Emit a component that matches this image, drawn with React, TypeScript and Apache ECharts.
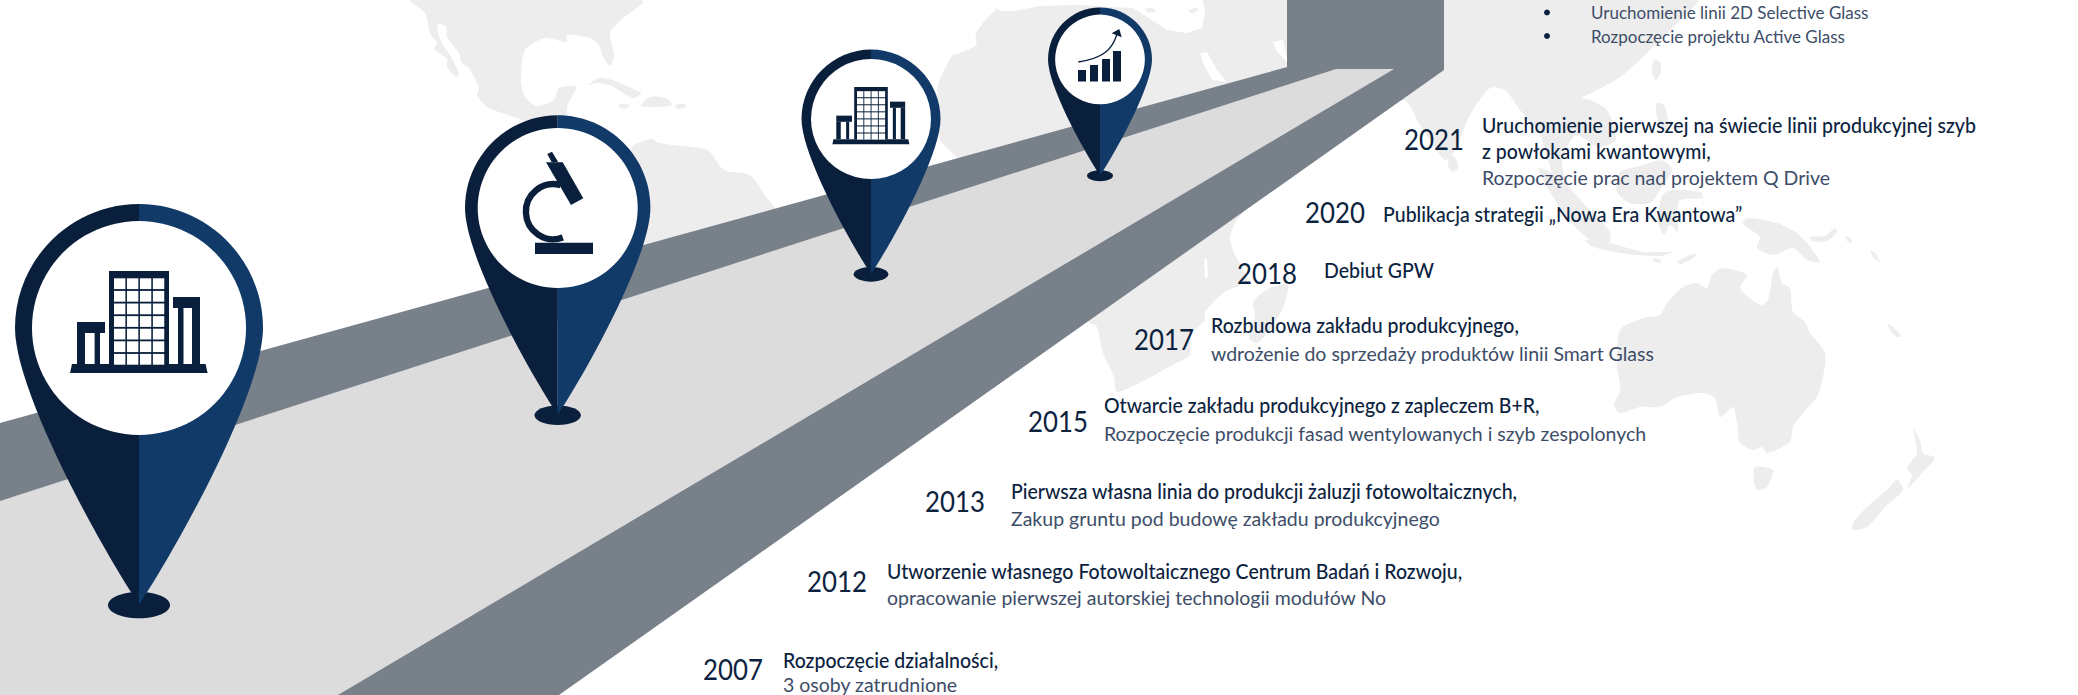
import React, { useEffect, useRef } from "react";
import * as echarts from "echarts";

const years = ["2021", "2020", "2018", "2017", "2015", "2013", "2012", "2007"];
const headlines = [
  ["Uruchomienie pierwszej na świecie linii produkcyjnej szyb", "z powłokami kwantowymi,"],
  ["Publikacja strategii „Nowa Era Kwantowa”"],
  ["Debiut GPW"],
  ["Rozbudowa zakładu produkcyjnego,"],
  ["Otwarcie zakładu produkcyjnego z zapleczem B+R,"],
  ["Pierwsza własna linia do produkcji żaluzji fotowoltaicznych,"],
  ["Utworzenie własnego Fotowoltaicznego Centrum Badań i Rozwoju,"],
  ["Rozpoczęcie działalności,"],
];
const details = [
  "Rozpoczęcie prac nad projektem Q Drive",
  "",
  "",
  "wdrożenie do sprzedaży produktów linii Smart Glass",
  "Rozpoczęcie produkcji fasad wentylowanych i szyb zespolonych",
  "Zakup gruntu pod budowę zakładu produkcyjnego",
  "opracowanie pierwszej autorskiej technologii modułów No",
  "3 osoby zatrudnione",
];
const bullets = ["Uruchomienie linii 2D Selective Glass", "Rozpoczęcie projektu Active Glass"];

// Layout: year x/y, text x, headline y(s), detail y
const rowLayout = [
  { yx: 1404, yy: 139, tx: 1482, hy: [125, 151], dy: 177 },
  { yx: 1305, yy: 212, tx: 1383, hy: [214], dy: 0 },
  { yx: 1237, yy: 273, tx: 1324, hy: [270], dy: 0 },
  { yx: 1134, yy: 339, tx: 1211, hy: [325], dy: 353 },
  { yx: 1028, yy: 421, tx: 1104, hy: [405], dy: 433 },
  { yx: 925, yy: 501, tx: 1011, hy: [491], dy: 518 },
  { yx: 807, yy: 581, tx: 887, hy: [571], dy: 597 },
  { yx: 703, yy: 669, tx: 783, hy: [660], dy: 684.5 },
];

const C = { dark: "#091f3c", blue: "#123a68", road: "#78818a", lane: "#dcdcdc", land: "#ededed", white: "#ffffff", head: "#0c2340", sub: "#3d4d68" };
const FONT = "Lato, 'Open Sans', sans-serif";

const landMasses: number[][][] = [
  // North America (with Central America running under the second pin)
  [[411,0],[425,13],[430,33],[437,43],[434,49],[447,59],[447,67],[456,77],[459,74],[451,57],[442,43],[438,33],[438,24],[446,27],[447,37],[460,55],[461,62],[469,68],[479,88],[477,95],[487,107],[514,117],[534,123],[567,123],[567,107],[576,87],[559,88],[554,100],[536,106],[525,97],[521,80],[525,50],[545,38],[567,42],[567,35],[590,38],[599,45],[603,57],[610,66],[614,55],[610,33],[621,20],[643,3],[641,0]],
  // Caribbean
  [[588,85],[599,78],[612,80],[641,93],[634,98],[623,93],[612,86],[599,83]],
  [[641,106],[650,97],[666,98],[672,105],[657,107]],
  [[620,104],[630,105],[625,109],[619,107]],
  [[675,105],[684,104],[686,107],[677,109]],
  // South America
  [[632,147],[652,139],[659,143],[692,147],[708,150],[724,170],[750,175],[766,197],[778,215],[640,260],[620,200]],
  // Europe / Africa / Asia
  [[994,0],[998,6],[1016,10],[998,8],[976,33],[976,45],[960,53],[952,56],[938,85],[936,110],[940,140],[956,157],[1000,250],[1090,323],[1097,327],[1103,353],[1114,377],[1117,392],[1143,381],[1167,368],[1190,355],[1190,343],[1192,333],[1205,320],[1205,312],[1223,293],[1247,280],[1234,253],[1230,237],[1237,220],[1300,150],[1403,100],[1420,125],[1445,160],[1455,150],[1470,115],[1490,88],[1505,90],[1520,110],[1540,135],[1548,160],[1558,188],[1565,185],[1562,160],[1576,135],[1598,147],[1616,140],[1607,110],[1590,100],[1582,98],[1597,90],[1620,77],[1643,57],[1657,43],[1680,20],[1697,0]],
  [[1257,297],[1270,288],[1288,285],[1282,310],[1267,333],[1257,343],[1249,338],[1255,317],[1253,303]],
  // Sri Lanka, Taiwan, Philippines
  [[1450,155],[1456,158],[1458,168],[1452,172],[1448,165]],
  [[1654,60],[1660,62],[1661,72],[1656,80],[1652,72]],
  [[1657,103],[1664,105],[1668,120],[1666,133],[1660,125],[1656,112]],
  // Sumatra, Borneo, Java, Sulawesi
  [[1538,168],[1560,178],[1585,205],[1610,232],[1608,245],[1590,240],[1565,215]],
  [[1620,172],[1640,166],[1662,160],[1672,170],[1660,190],[1650,203],[1630,203],[1617,192]],
  [[1585,240],[1610,243],[1643,252],[1673,252],[1660,256],[1627,254],[1593,247]],
  [[1658,222],[1662,196],[1672,190],[1700,192],[1703,198],[1680,200],[1677,212],[1678,232],[1670,225],[1664,235]],
  [[1677,262],[1695,253],[1696,256],[1682,264]],
  [[1653,258],[1661,260],[1660,263],[1654,261]],
  // New Guinea and New Britain
  [[1743,224],[1747,218],[1777,223],[1797,233],[1807,243],[1820,262],[1807,260],[1793,248],[1773,255],[1757,248],[1760,237]],
  [[1810,237],[1825,236],[1835,228],[1837,232],[1827,241],[1813,241]],
  [[1845,236],[1850,238],[1852,243],[1848,242]],
  [[1870,250],[1876,254],[1880,262],[1874,258]],
  [[1888,324],[1893,327],[1901,336],[1897,337],[1891,331]],
  // Australia and Tasmania
  [[1777,267],[1782,283],[1790,288],[1793,312],[1805,322],[1810,333],[1825,353],[1823,377],[1817,397],[1803,413],[1793,427],[1790,442],[1767,453],[1762,447],[1753,450],[1740,443],[1737,423],[1733,407],[1720,417],[1715,398],[1703,393],[1677,397],[1660,407],[1640,407],[1620,413],[1614,405],[1620,390],[1617,363],[1620,330],[1643,318],[1660,315],[1667,303],[1683,287],[1697,283],[1707,288],[1712,275],[1723,268],[1747,275],[1740,288],[1760,305],[1768,300],[1773,273]],
  [[1755,467],[1773,470],[1767,487],[1758,490],[1754,483]],
  // New Zealand
  [[1913,428],[1920,440],[1923,453],[1935,458],[1922,473],[1908,488],[1912,475],[1907,468],[1917,453]],
  [[1897,480],[1903,490],[1885,507],[1867,527],[1853,530],[1853,523],[1867,507],[1887,490]],
];
const seas: number[][][] = [
  // Mediterranean
  [[990,0],[1000,11],[1015,11],[1040,6],[1080,5],[1110,7],[1133,8],[1147,17],[1167,30],[1187,33],[1202,28],[1205,13],[1203,0]],
  // Red Sea, Persian Gulf, inland lake
  [[1200,53],[1207,52],[1217,70],[1227,82],[1212,80],[1203,63]],
  [[1273,42],[1283,40],[1288,63],[1282,57],[1276,50]],
  [[1204,259],[1207,259],[1208,277],[1205,278]],
  // Gulf of Tonkin
  [[1594,93],[1600,92],[1604,100],[1598,104]],
];
const medIslands: number[][][] = [
  [[1144,9],[1152,8],[1157,11],[1149,13]],
  [[1188,11],[1197,7],[1198,10],[1192,14]],
];

const grayRoad = [[0,423],[1287,67],[1287,0],[1444,0],[1444,70],[559,695],[0,695]];
const lightLane = [[0,501],[1336,69],[1394,69],[338,695],[0,695]];

const pins = [
  { cx: 139, cy: 328, R: 124, icon: "building" },
  { cx: 557.7, cy: 208, R: 92.7, icon: "microscope" },
  { cx: 871, cy: 119, R: 69.5, icon: "building" },
  { cx: 1100, cy: 59.5, R: 52, icon: "chart" },
];

echarts.graphic.registerShape("pinHalfL", echarts.graphic.extendPath("M0,-100 C-55,-100 -100,-55 -100,0 C-100,50 -35,170 0,223 Z", {}));
echarts.graphic.registerShape("pinHalfR", echarts.graphic.extendPath("M0,-100 C55,-100 100,-55 100,0 C100,50 35,170 0,223 Z", {}));

function poly(points: number[][], fill: string, extra: any = {}) {
  return { type: "polygon", shape: { points, ...extra }, style: { fill } };
}
function rect(x0: number, y0: number, x1: number, y1: number, fill = C.dark) {
  return { type: "rect", shape: { x: x0, y: y0, width: x1 - x0, height: y1 - y0 }, style: { fill } };
}

function buildingIcon() {
  const ch: any[] = [
    poly([[-67,36],[66.6,36],[68.6,45],[-69,45]], C.dark),
    rect(-30,-57,30,36),
    rect(-62,-6,-34,5), rect(-62,5,-54,36), rect(-44.4,5,-39,36),
    rect(34,-31,61,-20), rect(39,-20,44.5,36), rect(53,-20,61,36),
  ];
  for (let r = 0; r < 7; r++) for (let c = 0; c < 4; c++) {
    const x = -25 + c * 12.95, y = -49.7 + r * 12.6;
    ch.push(rect(x, y, x + 11.4, y + 10.8, C.white));
  }
  return { ch };
}
function microscopeIcon() {
  return { ch: [
    rect(-22.7,34.7,35.3,46),
    { type: "arc", shape: { cx: -4.3, cy: 3.7, r: 27.5, startAngle: 70*Math.PI/180, endAngle: 285*Math.PI/180, clockwise: true }, style: { stroke: C.dark, lineWidth: 6.4, fill: "none" } },
    poly([[-11.7,-45.7],[5,-45.7],[25.6,-9.7],[13.3,-3]], C.dark),
    poly([[-10.4,-54],[-5.7,-56.3],[0.6,-45.7],[-6,-45.7]], C.dark),
  ]};
}
function chartIcon() {
  return { ch: [
    rect(-22,10.5,-14,22), rect(-10,5.5,-2,22), rect(2,-0.5,10,22), rect(13,-8.5,21,22),
    { type: "bezierCurve", shape: { x1: -21.7, y1: 2.5, cpx1: 3.3, cpy1: -1.2, cpx2: 12, cpy2: -10, x2: 16.7, y2: -24.5 }, style: { stroke: C.dark, lineWidth: 1.3, fill: "none" } },
    poly([[11.7,-26.2],[19.3,-30.5],[21.7,-22.2]], C.dark),
  ]};
}

function pinGraphic(p: typeof pins[number]) {
  const s = p.R / 100;
  const iconDef = p.icon === "building" ? buildingIcon() : p.icon === "microscope" ? microscopeIcon() : chartIcon();
  const iconScale = p.icon === "building" ? p.R / 124 : 1;
  return {
    type: "group",
    children: [
      { type: "ellipse", shape: { cx: p.cx, cy: p.cy + p.R * 2.235, rx: p.R * 0.25, ry: p.R * 0.105 }, style: { fill: C.dark } },
      { type: "pinHalfL", x: p.cx, y: p.cy, scaleX: s, scaleY: s, style: { fill: C.dark } },
      { type: "pinHalfR", x: p.cx, y: p.cy, scaleX: s, scaleY: s, style: { fill: C.blue } },
      { type: "circle", shape: { cx: p.cx, cy: p.cy, r: p.R * 0.863 }, style: { fill: C.white } },
      { type: "group", x: p.cx, y: p.cy, scaleX: iconScale, scaleY: iconScale, children: iconDef.ch },
    ],
  };
}

function text(str: string, x: number, y: number, size: number, fill: string, weight: any = 400, sx = 1) {
  return { type: "text", x, y, scaleX: sx, style: { text: str, x: 0, y: 0, fill, fontFamily: FONT, fontSize: size, fontWeight: weight, textAlign: "left", textVerticalAlign: "middle" } };
}

function buildOption() {
  const g: any[] = [];
  landMasses.forEach((p) => g.push(poly(p, C.land, { smooth: 0.25 })));
  seas.forEach((p) => g.push(poly(p, C.white)));
  medIslands.forEach((p) => g.push(poly(p, C.land)));
  g.push(poly(grayRoad, C.road));
  g.push(poly(lightLane, C.lane));
  [...pins].reverse().forEach((p) => g.push(pinGraphic(p)));
  bullets.forEach((b, i) => {
    const y = [12.5, 36][i];
    g.push({ type: "circle", shape: { cx: 1547, cy: y, r: 3 }, style: { fill: C.head } });
    g.push(text(b, 1591, y, 17, C.sub));
  });
  years.forEach((yr, i) => {
    const l = rowLayout[i];
    g.push(text(yr, l.yx, l.yy, 29, C.head, 400, 0.89));
    headlines[i].forEach((h, j) => g.push(text(h, l.tx, l.hy[j], 21, C.head, 500, 0.93)));
    if (details[i]) g.push(text(details[i], l.tx, l.dy, 19.5, C.sub));
  });
  return { animation: false, backgroundColor: "#ffffff", graphic: { elements: g } };
}

export default function App() {
  const ref = useRef<HTMLDivElement>(null);
  useEffect(() => {
    document.body.style.margin = "0";
    const chart = echarts.init(ref.current!, undefined, { renderer: "svg" });
    chart.setOption(buildOption() as any);
    return () => chart.dispose();
  }, []);
  return <div ref={ref} style={{ width: 2078, height: 695 }} />;
}
